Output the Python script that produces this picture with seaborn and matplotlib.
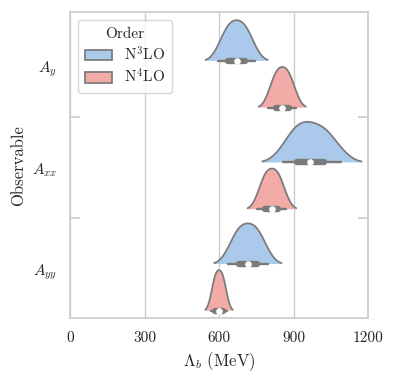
import numpy as np
import pandas as pd
import matplotlib
matplotlib.use("Agg")
import matplotlib.pyplot as plt
import seaborn as sns
from matplotlib.collections import PolyCollection, PathCollection
from matplotlib.ticker import FixedLocator

# ---------------- data ----------------
observables = ["$A_y$", "$A_{xx}$", "$A_{yy}$"]
orders = ["N$^3$LO", "N$^4$LO"]

# Lambda_b samples (MeV)
ay_n3lo = [597, 621, 632, 638, 651, 662, 671, 680, 691, 704, 710, 721, 745]
ay_n4lo = [799, 817, 826, 830, 840, 848, 855, 862, 870, 880, 884, 893, 911]
axx_n3lo = [856, 891, 908, 916, 936, 952, 966, 982, 1001, 1023, 1032, 1051, 1092]
axx_n4lo = [755, 774, 783, 787, 797, 806, 813, 820, 829, 839, 843, 852, 871]
ayy_n3lo = [636, 662, 674, 680, 694, 706, 716, 726, 738, 752, 758, 770, 796]
ayy_n4lo = [567, 578, 583, 585, 591, 596, 600, 604, 609, 615, 617, 622, 633]

samples = {
    ("$A_y$", "N$^3$LO"): ay_n3lo,
    ("$A_y$", "N$^4$LO"): ay_n4lo,
    ("$A_{xx}$", "N$^3$LO"): axx_n3lo,
    ("$A_{xx}$", "N$^4$LO"): axx_n4lo,
    ("$A_{yy}$", "N$^3$LO"): ayy_n3lo,
    ("$A_{yy}$", "N$^4$LO"): ayy_n4lo,
}

x_ticks = [0, 300, 600, 900, 1200]

# ---------------- layout ----------------
order_offset = {"N$^3$LO": -0.05, "N$^4$LO": 0.41}

rows = []
for (obs, order), vals in samples.items():
    base = observables.index(obs) + order_offset[order]
    for v in vals:
        rows.append({"Observable": obs, "Order": order, "Lambda": v, "pos": base})
df = pd.DataFrame(rows)

sns.set_theme(style="whitegrid", context="notebook")
plt.rcParams.update({
    "font.family": "serif",
    "font.serif": ["cmr10"],
    "mathtext.fontset": "cm",
    "axes.formatter.use_mathtext": True,
    "axes.unicode_minus": False,
})

pastel = sns.color_palette("pastel")
palette = {"N$^3$LO": pastel[0], "N$^4$LO": pastel[3]}

fig = plt.figure(figsize=(3.95, 3.79), dpi=100)
ax = fig.add_axes([70 / 395, 1 - 318.3 / 379, 298 / 395, 306 / 379])

positions = sorted(df["pos"].unique())
min_gap = np.min(np.diff(positions))

sns.violinplot(
    data=df, x="Lambda", y="pos", hue="Order", hue_order=orders,
    orient="y", native_scale=True, dodge=False,
    density_norm="width", width=0.8 / min_gap, bw_adjust=1.0,
    inner="box", palette=palette, ax=ax,
    inner_kws=dict(box_width=4.6, whis_width=1.7, marker="o",
                   solid_capstyle="round"),
)

# keep only the upper half of each violin (half-violins sitting on their base)
for coll in list(ax.collections):
    if isinstance(coll, PolyCollection) and not isinstance(coll, PathCollection):
        new_verts = []
        ec = coll.get_edgecolor()
        lw = coll.get_linewidth()
        ec = ec[0] if len(ec) else (0.4, 0.4, 0.4, 1)
        lw = lw[0] if np.ndim(lw) else lw
        for path in coll.get_paths():
            v = path.vertices.copy()
            p = 0.5 * (v[:, 1].min() + v[:, 1].max())
            top = v[v[:, 1] < p - 1e-9]
            top = top[np.argsort(top[:, 0])]
            v[:, 1] = np.minimum(v[:, 1], p)
            new_verts.append(v)
            ax.plot(top[:, 0], top[:, 1], color=ec, lw=lw, zorder=1.5,
                    solid_capstyle="round")
        coll.set_verts(new_verts)
        coll.set_edgecolor("none")

ax.set_xlim(0, 1200)
ax.set_xticks(x_ticks)
ax.set_xticklabels([str(t) for t in x_ticks])
ax.set_ylim(2.484, -0.528)
ax.set_yticks(range(len(observables)))
ax.set_yticklabels(observables)
ax.yaxis.set_minor_locator(FixedLocator([0.5, 1.5]))
ax.tick_params(axis="y", which="minor", left=True, right=True, direction="in",
               length=7.2, width=1.2, color="0.8")
ax.tick_params(axis="y", which="major", left=False, right=False)
ax.yaxis.grid(False, which="both")
ax.xaxis.grid(True, color="0.8", linewidth=1)
for s in ax.spines.values():
    s.set_visible(True)
    s.set_color("0.8")
    s.set_linewidth(1.25)

ax.set_xlabel(r"$\Lambda_b$ (MeV)", fontsize=12)
ax.set_ylabel("Observable", fontsize=12)

sns.move_legend(ax, "upper left", title="Order", fontsize=11, title_fontsize=11,
                labelspacing=0.3, handlelength=1.8, borderpad=0.45,
                handletextpad=0.8)

fig.savefig("out.png", dpi=100)
